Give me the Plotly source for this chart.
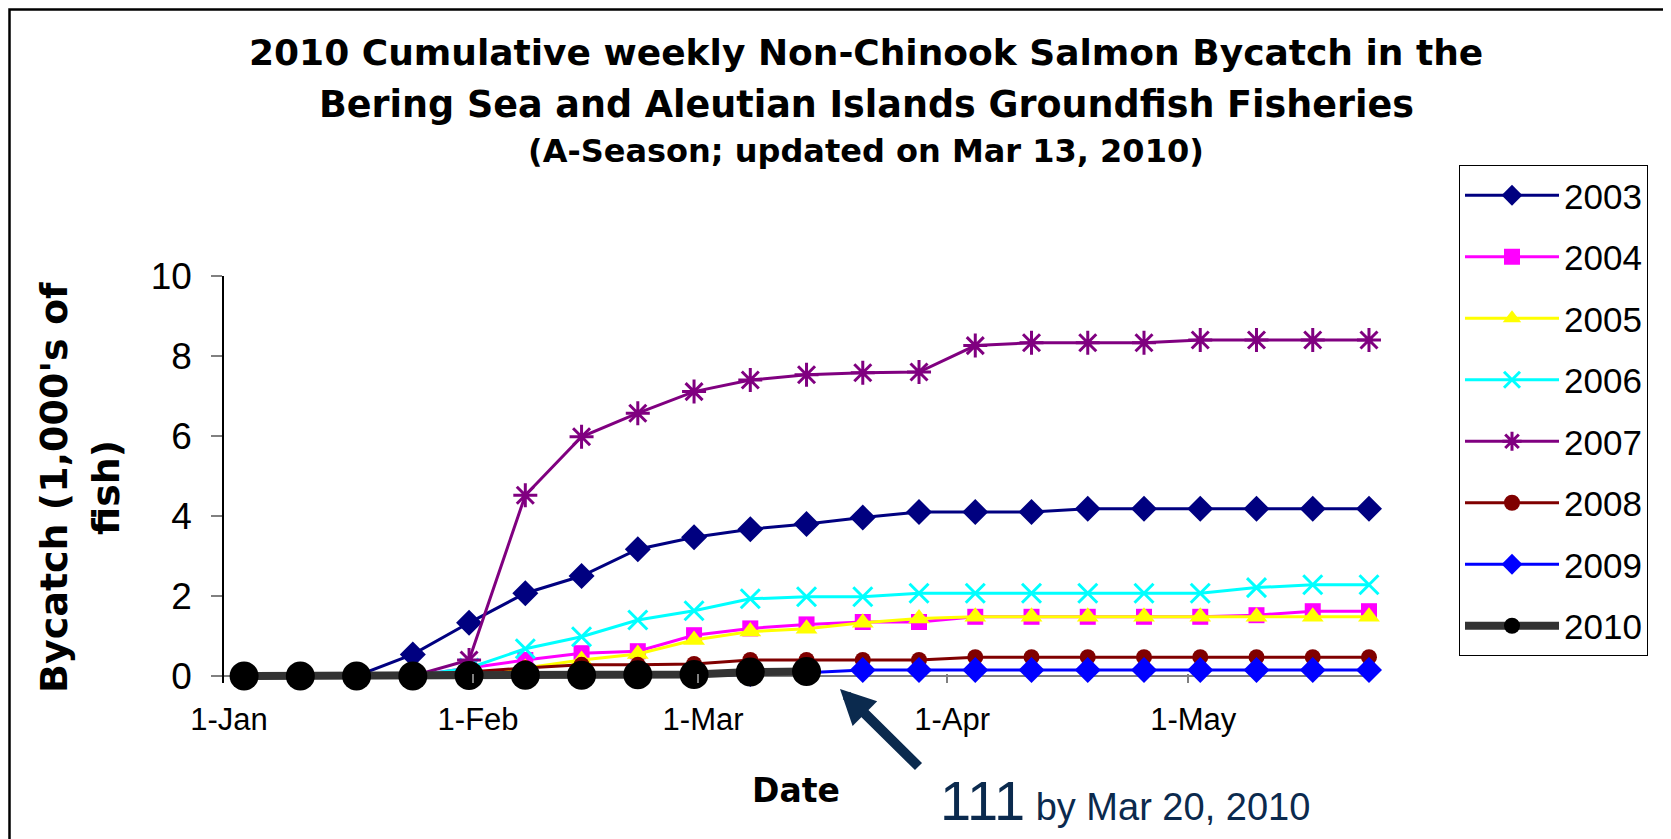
import plotly.graph_objects as go
import pandas as pd

# weekly reporting dates (plotted in the middle of each day slot, like Excel)
week_dates = ["2010-01-03", "2010-01-10", "2010-01-17", "2010-01-24", "2010-01-31",
              "2010-02-07", "2010-02-14", "2010-02-21", "2010-02-28", "2010-03-07",
              "2010-03-14", "2010-03-21", "2010-03-28", "2010-04-04", "2010-04-11",
              "2010-04-18", "2010-04-25", "2010-05-02", "2010-05-09", "2010-05-16",
              "2010-05-23"]

# cumulative bycatch, 1,000's of fish
by_2003 = [0, 0, 0, 0.54, 1.33, 2.07, 2.5, 3.17, 3.47, 3.67, 3.8, 3.96, 4.1, 4.1,
           4.1, 4.18, 4.18, 4.18, 4.18, 4.18, 4.18]
by_2004 = [0, 0, 0, 0, 0.2, 0.4, 0.57, 0.62, 1.02, 1.19, 1.29, 1.35, 1.35, 1.48,
           1.48, 1.48, 1.48, 1.48, 1.52, 1.62, 1.62]
by_2005 = [0, 0, 0, 0, 0, 0.2, 0.4, 0.55, 0.9, 1.11, 1.18, 1.33, 1.44, 1.48,
           1.48, 1.48, 1.48, 1.48, 1.48, 1.48, 1.48]
by_2006 = [0, 0, 0, 0, 0.2, 0.68, 0.98, 1.4, 1.63, 1.93, 1.98, 1.98, 2.07, 2.07,
           2.07, 2.07, 2.07, 2.07, 2.21, 2.28, 2.28]
by_2007 = [0, 0, 0, 0, 0.4, 4.52, 5.98, 6.57, 7.11, 7.4, 7.53, 7.58, 7.6, 8.26,
           8.33, 8.33, 8.33, 8.4, 8.4, 8.4, 8.4]
by_2008 = [0, 0, 0, 0.05, 0.1, 0.2, 0.28, 0.28, 0.3, 0.4, 0.4, 0.4, 0.4, 0.47,
           0.47, 0.47, 0.47, 0.47, 0.47, 0.47, 0.47]
by_2009 = [0, 0, 0, 0, 0, 0, 0, 0, 0, 0.05, 0.08, 0.15, 0.15, 0.15, 0.15, 0.15,
           0.15, 0.15, 0.15, 0.15, 0.15]
by_2010 = [0, 0, 0, 0, 0.01, 0.02, 0.02, 0.03, 0.04, 0.1, 0.111]

years = ["2003", "2004", "2005", "2006", "2007", "2008", "2009", "2010"]
series = [by_2003, by_2004, by_2005, by_2006, by_2007, by_2008, by_2009, by_2010]

tick_dates = ["2010-01-01", "2010-02-01", "2010-03-01", "2010-04-01", "2010-05-01"]
tick_text = ["1-Jan", "1-Feb", "1-Mar", "1-Apr", "1-May"]

styles = {
    "2003": dict(color="#000080", symbol="diamond", size=20, lw=3),
    "2004": dict(color="#FF00FF", symbol="square", size=16, lw=3),
    "2005": dict(color="#FFFF00", symbol="triangle-up", size=19, lw=3),
    "2006": dict(color="#00FFFF", symbol="x-thin-open", size=19, lw=3),
    "2007": dict(color="#800080", symbol="asterisk-open", size=20, lw=3),
    "2008": dict(color="#800000", symbol="circle", size=16, lw=3),
    "2009": dict(color="#0000FF", symbol="diamond", size=20, lw=3),
    "2010": dict(color="#000000", symbol="circle", size=29, lw=8),
}

FONT = "Arial, Liberation Sans, sans-serif"
BOLD = "DejaVu Sans, Arial, sans-serif"

# the page body has an 8px margin, so the figure sits at (8, 8) in the window
OFF = 8
W, H = 1671 - OFF, 839 - OFF
L, R, T, B = 216, 298, 268, 156
PW, PH = W - L - R, H - T - B
Y0 = 676          # window row of the value 0
PPU = 40          # pixels per 1 unit on the y axis


def px(x):
    # window pixel column -> paper fraction
    return (x - OFF - L) / PW


def py(y):
    # window pixel row -> paper fraction
    return (H - B - (y - OFF)) / PH


x_all = pd.to_datetime(week_dates) + pd.Timedelta(hours=12)

fig = go.Figure()
for yr, vals in zip(years, series):
    st = styles[yr]
    mk = dict(color=st["color"], symbol=st["symbol"], size=st["size"])
    if "open" in st["symbol"]:
        mk["line"] = dict(color=st["color"], width=3)
    fig.add_trace(go.Scatter(
        x=x_all[:len(vals)], y=vals, name=yr, mode="lines+markers",
        line=dict(color="#333333" if yr == "2010" else st["color"], width=st["lw"]),
        marker=mk, cliponaxis=False, legendgroup=yr,
    ))

navy = "#0B2A4E"
annotations = [
    dict(text="<b>2010 Cumulative weekly Non-Chinook Salmon Bycatch in the</b>",
         x=px(866), y=py(52), font=dict(size=36, family=BOLD)),
    dict(text="<b>Bering Sea and Aleutian Islands Groundfish Fisheries</b>",
         x=px(866), y=py(104), font=dict(size=36.5, family=BOLD)),
    dict(text="<b>(A-Season; updated on Mar 13, 2010)</b>",
         x=px(866), y=py(151), font=dict(size=32, family=BOLD)),
    dict(text="<b>Bycatch (1,000's of</b>", x=px(54), y=py(488), textangle=-90,
         font=dict(size=38, family=BOLD)),
    dict(text="<b>fish)</b>", x=px(106), y=py(488), textangle=-90,
         font=dict(size=38, family=BOLD)),
    dict(text="<b>Date</b>", x=px(796), y=py(790), font=dict(size=33, family=BOLD)),
    dict(text="<span style='font-size:56px'>111</span> by Mar 20, 2010",
         x=px(938), y=py(800), xanchor="left",
         font=dict(size=38, color=navy)),
    dict(text="", x=px(840), y=py(689), showarrow=True, arrowhead=2,
         arrowsize=0.7, arrowwidth=10, arrowcolor=navy,
         ax=80, ay=79),
]
for a in annotations:
    a.setdefault("showarrow", False)
    a.setdefault("xanchor", "center")
    a["yanchor"] = "middle"
    a["xref"] = "paper"
    a["yref"] = "paper"

fig.update_layout(
    width=W, height=H,
    margin=dict(l=L, r=R, t=T, b=B, autoexpand=False),
    paper_bgcolor="white", plot_bgcolor="white",
    font=dict(family=FONT, color="black"),
    annotations=annotations,
    showlegend=True,
    legend=dict(
        x=px(1459), y=py(165), xanchor="left", yanchor="top",
        bordercolor="black", borderwidth=1, bgcolor="white",
        font=dict(size=35), itemwidth=94, tracegroupgap=13,
        maxheight=700,
    ),
    shapes=[dict(type="rect", xref="paper", yref="paper",
                 x0=px(9.5), x1=px(1666), y0=py(900), y1=py(9.5),
                 line=dict(color="black", width=2.5))],
    xaxis=dict(
        type="date", range=["2010-01-01", "2010-05-24"],
        tickvals=tick_dates, ticktext=tick_text,
        ticks="inside", ticklen=9, tickcolor="#808080", tickwidth=1.5,
        showline=False, showgrid=False, zeroline=False, automargin=False,
        tickfont=dict(size=31), ticklabelstandoff=15, ticklabelshift=5,
    ),
    yaxis=dict(
        range=[-(683 - Y0) / PPU, 10], tickvals=[0, 2, 4, 6, 8, 10],
        ticks="outside", ticklen=11, tickcolor="#808080", tickwidth=1.5,
        showline=True, linecolor="black", linewidth=1.5,
        showgrid=False, zeroline=True, zerolinecolor="#808080", zerolinewidth=2,
        layer="below traces", automargin=False,
        tickfont=dict(size=37), ticklabelstandoff=12,
    ),
)

fig.write_html("out.html")
